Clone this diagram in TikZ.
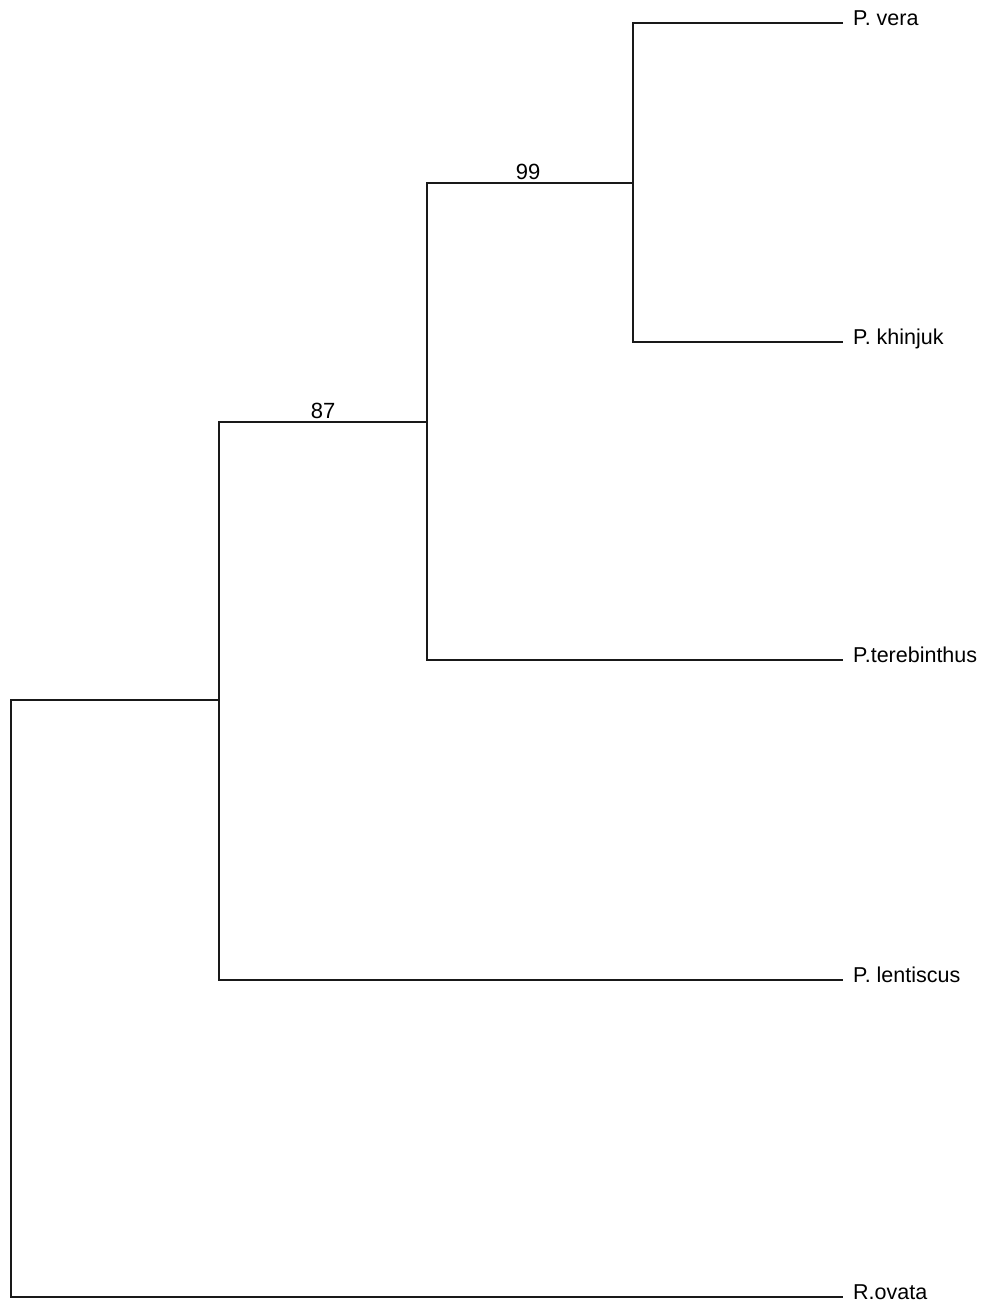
\documentclass[tikz,border=0pt]{standalone}
\usepackage{fontspec}
\setmainfont{Liberation Sans}
\usepackage{tikz}
\usetikzlibrary{positioning}

\begin{document}
\begin{tikzpicture}[x=1pt, y=-1pt,
        leaf/.style={anchor=mid west, inner ysep=0pt, inner xsep=10pt, font=\fontsize{21.5}{26}\selectfont},
        support/.style={anchor=south, inner sep=3pt, font=\fontsize{22}{26}\selectfont},
        branch/.style={line width=1.8pt, black!90}
    ]
        \useasboundingbox (0,0) rectangle (989,1308);

        % taxa
        \node[leaf] (vera) at (843,23) {P. vera};
        \node[leaf] (khinjuk) at (843,342) {P. khinjuk};
        \node[leaf] (terebinthus) at (843,660) {P.terebinthus};
        \node[leaf] (lentiscus) at (843,980) {P. lentiscus};
        \node[leaf] (ovata) at (843,1297) {R.ovata};

        % inner nodes
        \coordinate (vk) at (633,183);
        \coordinate (vkt) at (427,422);
        \coordinate (pist) at (219,700);
        \coordinate (root) at (11,700);

        \draw[branch] (vera.mid west) -| (vk) |- (khinjuk.mid west);
        \draw[branch] (vk) -| (vkt) |- (terebinthus.mid west);
        \draw[branch] (vkt) -| (pist) |- (lentiscus.mid west);
        \draw[branch] (pist) -- (root) |- (ovata.mid west);

        % bootstrap values
        \node[support] (boot99) at (528,183) {99};
        \node[support] (boot87) at (323,422) {87};
    \end{tikzpicture}
\end{document}
